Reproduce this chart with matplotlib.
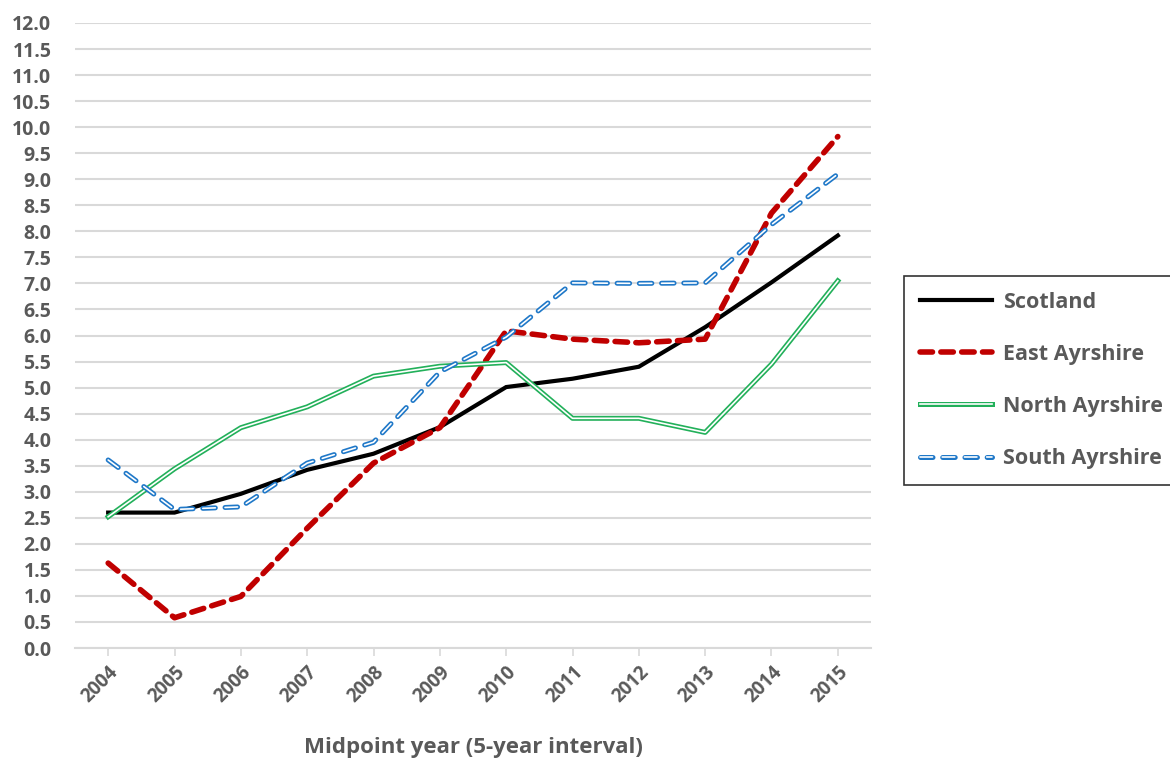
import numpy as np
import matplotlib
matplotlib.use("Agg")
import matplotlib.pyplot as plt

plt.rcParams['font.family'] = ['Open Sans', 'DejaVu Sans']
plt.rcParams['lines.scale_dashes'] = False

years = ['2004', '2005', '2006', '2007', '2008', '2009',
         '2010', '2011', '2012', '2013', '2014', '2015']
scotland = [2.6, 2.6, 2.96, 3.42, 3.73, 4.24, 5.01, 5.17, 5.40, 6.16, 7.02, 7.92]
east_ayrshire = [1.63, 0.58, 0.99, 2.3, 3.55, 4.23, 6.09, 5.93, 5.86, 5.93, 8.35, 9.82]
north_ayrshire = [2.52, 3.44, 4.23, 4.63, 5.22, 5.41, 5.48, 4.41, 4.41, 4.14, 5.45, 7.05]
south_ayrshire = [3.61, 2.66, 2.71, 3.55, 3.95, 5.3, 5.97, 7.01, 7.0, 7.01, 8.13, 9.1]

grey = '#595959'
x = np.arange(len(years))

fig = plt.figure(figsize=(11.7, 7.58), dpi=100)
ax = fig.add_axes([75/1170, 1-648/758, (871-75)/1170, (648-23)/758])

ax.set_ylim(0, 12)
ax.set_xlim(-0.5, 11.5)
ax.set_yticks(np.arange(0, 12.01, 0.5))
ax.set_yticklabels(['%.1f' % v for v in np.arange(0, 12.01, 0.5)])
ax.yaxis.grid(True, color='#d9d9d9', linewidth=1.5)
ax.set_axisbelow(True)
for s in ['top', 'right', 'left']:
    ax.spines[s].set_visible(False)
ax.spines['bottom'].set_color('#d9d9d9')
ax.spines['bottom'].set_linewidth(1.5)

ax.set_xticks(x)
ax.set_xticklabels(years, rotation=45, ha='right', va='top', rotation_mode='anchor')
ax.tick_params(axis='x', length=6, color='#d9d9d9', width=1.2, pad=4,
               labelsize=13.5, labelcolor=grey)
ax.tick_params(axis='y', length=0, pad=17, labelsize=14, labelcolor=grey)
for lab in ax.get_xticklabels() + ax.get_yticklabels():
    lab.set_fontweight('bold')

l1, = ax.plot(x, scotland, color='black', lw=3, solid_joinstyle='miter')
l2, = ax.plot(x, east_ayrshire, color='#c00000', lw=4, dashes=(9, 6),
              dash_capstyle='round')
g1, = ax.plot(x, north_ayrshire, color='#22b05a', lw=3.6)
g2, = ax.plot(x, north_ayrshire, color='white', lw=1.2)
b1, = ax.plot(x, south_ayrshire, color='#1f78c8', lw=3.6, dashes=(9, 7),
              dash_capstyle='round')
b2, = ax.plot(x, south_ayrshire, color='white', lw=1.2, dashes=(9, 7),
              dash_capstyle='round')

ax.set_xlabel('Midpoint year (5-year interval)', fontsize=16, fontweight='bold',
              color=grey, labelpad=22)

leg = fig.legend([l1, l2, (g1, g2), (b1, b2)],
                 ['Scotland', 'East Ayrshire', 'North Ayrshire', 'South Ayrshire'],
                 loc='upper left', bbox_to_anchor=(904/1170, 1-276/758),
                 frameon=True, fancybox=False, handlelength=3.35, handletextpad=0.55,
                 labelspacing=1.45, borderpad=0.72, borderaxespad=0,
                 prop={'weight': 'bold', 'size': 15.5})
leg.get_frame().set_edgecolor('black')
leg.get_frame().set_linewidth(1.2)
for t in leg.get_texts():
    t.set_color(grey)

fig.savefig('out.png', dpi=100)
